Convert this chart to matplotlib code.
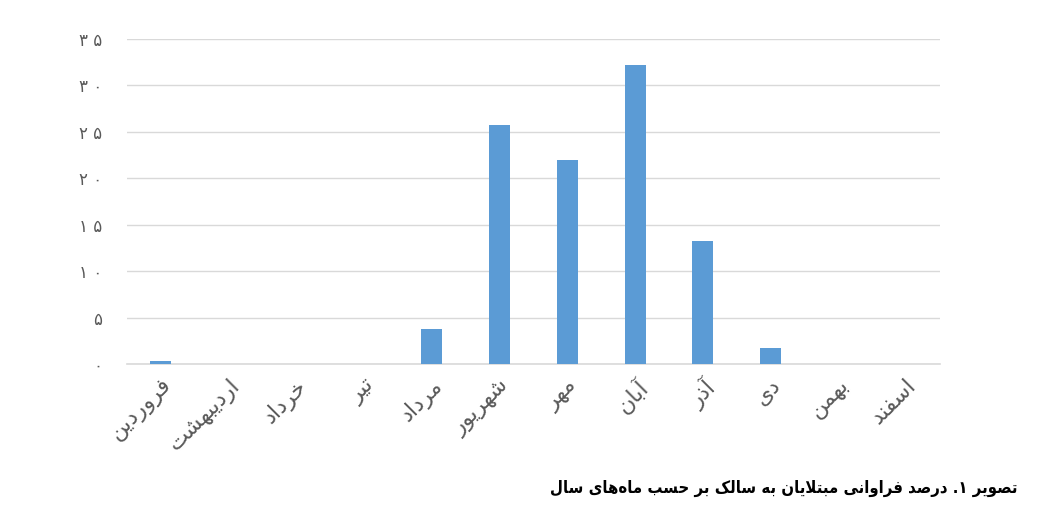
import matplotlib
matplotlib.use("Agg")
import matplotlib.pyplot as plt
from matplotlib.ticker import FuncFormatter, MultipleLocator

# Monthly frequency (%) of leishmaniasis cases, Persian calendar months
months = ["فروردین", "اردیبهشت", "خرداد", "تیر", "مرداد", "شهریور",
          "مهر", "آبان", "آذر", "دی", "بهمن", "اسفند"]
percent = [0.3, 0.05, 0.05, 0.05, 3.8, 25.7, 22.0, 32.2, 13.2, 1.7, 0.05, 0.0]
caption = "تصویر ۱. درصد فراوانی مبتلایان به سالک بر حسب ماه\u200cهای سال"

# matplotlib does no Arabic shaping, so pick presentation forms by hand
# (isolated, final, initial, medial); right-joining letters have no initial/medial
FORMS = {
    "ا": ("\uFE8D", "\uFE8E", None, None),
    "آ": ("\uFE81", "\uFE82", None, None),
    "د": ("\uFEA9", "\uFEAA", None, None),
    "ذ": ("\uFEAB", "\uFEAC", None, None),
    "ر": ("\uFEAD", "\uFEAE", None, None),
    "و": ("\uFEED", "\uFEEE", None, None),
    "ب": ("\uFE8F", "\uFE90", "\uFE91", "\uFE92"),
    "ت": ("\uFE95", "\uFE96", "\uFE97", "\uFE98"),
    "ح": ("\uFEA1", "\uFEA2", "\uFEA3", "\uFEA4"),
    "خ": ("\uFEA5", "\uFEA6", "\uFEA7", "\uFEA8"),
    "س": ("\uFEB1", "\uFEB2", "\uFEB3", "\uFEB4"),
    "ش": ("\uFEB5", "\uFEB6", "\uFEB7", "\uFEB8"),
    "ص": ("\uFEB9", "\uFEBA", "\uFEBB", "\uFEBC"),
    "ف": ("\uFED1", "\uFED2", "\uFED3", "\uFED4"),
    "ل": ("\uFEDD", "\uFEDE", "\uFEDF", "\uFEE0"),
    "م": ("\uFEE1", "\uFEE2", "\uFEE3", "\uFEE4"),
    "ن": ("\uFEE5", "\uFEE6", "\uFEE7", "\uFEE8"),
    "ه": ("\uFEE9", "\uFEEA", "\uFEEB", "\uFEEC"),
    "ی": ("\uFBFC", "\uFBFD", "\uFBFE", "\uFBFF"),
    "ک": ("\uFB8E", "\uFB8F", "\uFB90", "\uFB91"),
}


def dual(c):
    return c in FORMS and FORMS[c][2] is not None


def shape(text):
    out = []
    i = 0
    n = len(text)
    while i < n:
        c = text[i]
        prev = text[i - 1] if i > 0 else None
        nxt = text[i + 1] if i + 1 < n else None
        if c not in FORMS:
            if c != "\u200c":
                out.append(c)
            i += 1
            continue
        join_prev = dual(prev)
        # lam-alef ligature
        if c == "ل" and nxt == "ا":
            out.append("\uFEFC" if join_prev else "\uFEFB")
            i += 2
            continue
        join_next = dual(c) and nxt in FORMS
        iso, fin, ini, med = FORMS[c]
        if join_prev and join_next:
            out.append(med)
        elif join_prev:
            out.append(fin)
        elif join_next:
            out.append(ini)
        else:
            out.append(iso)
        i += 1
    # right-to-left: reverse into visual order
    return "".join(out)[::-1]


FA_DIGITS = str.maketrans("0123456789", "۰۱۲۳۴۵۶۷۸۹")

fig = plt.figure(figsize=(10.44, 5.16), dpi=100)
ax = fig.add_axes([127 / 1044, 152 / 516, 813 / 1044, 325 / 516])

x = range(len(months))
ax.bar(x, percent, width=0.31, color="#5B9BD5", zorder=3)

ax.set_xlim(-0.5, len(months) - 0.5)
ax.set_ylim(0, 35)
ax.yaxis.set_major_locator(MultipleLocator(5))
ax.yaxis.set_major_formatter(FuncFormatter(lambda v, p: " ".join(str(int(v)).translate(FA_DIGITS))))
ax.grid(axis="y", color="#D9D9D9", linewidth=1, zorder=0)

for s in ["top", "right", "left"]:
    ax.spines[s].set_visible(False)
ax.spines["bottom"].set_color("#D9D9D9")
ax.spines["bottom"].set_linewidth(1.2)

ax.tick_params(axis="both", length=0, colors="#595959")
ax.tick_params(axis="y", labelsize=12, pad=18)
ax.set_xticks(list(x))
ax.set_xticklabels([shape(m) for m in months], rotation=45, ha="right",
                   rotation_mode="anchor", fontsize=16, color="#595959")
ax.tick_params(axis="x", pad=8)

fig.text(1018 / 1044, 28 / 516, shape(caption), ha="right", va="center",
         fontsize=12, fontweight="bold", fontstretch="condensed", color="black")

fig.savefig("out.png", dpi=100)
